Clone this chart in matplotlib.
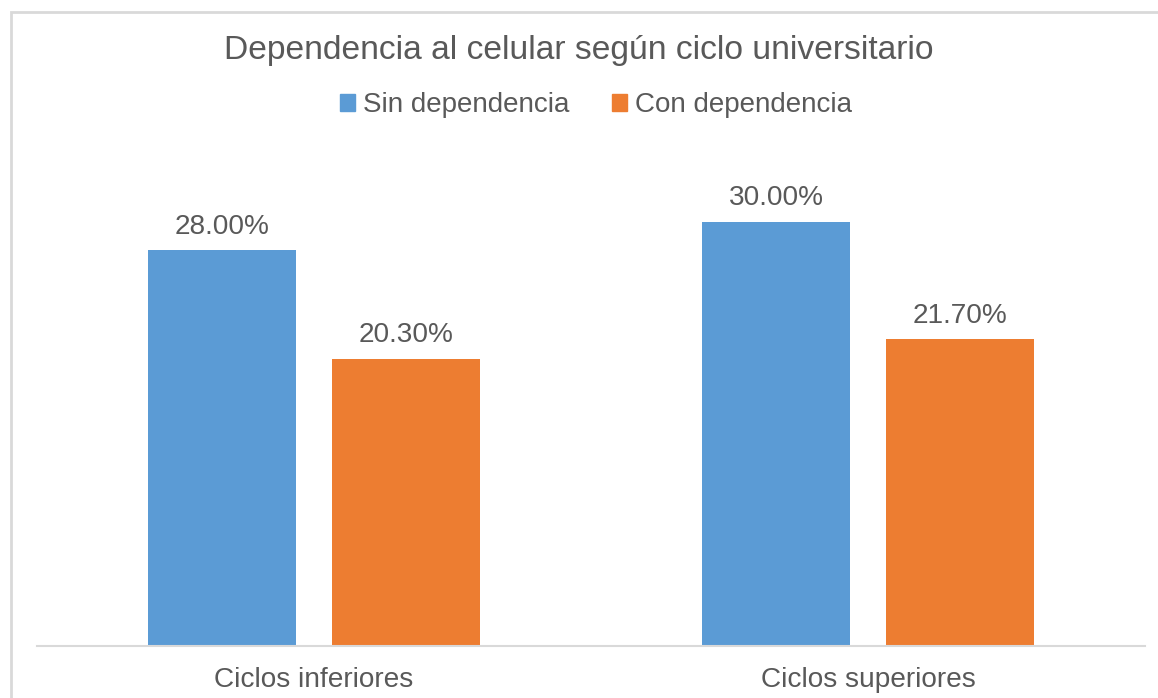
import matplotlib
matplotlib.use("Agg")
import matplotlib.pyplot as plt
from matplotlib.patches import Rectangle, Patch
import numpy as np

categories = ["Ciclos inferiores", "Ciclos superiores"]
series_names = ["Sin dependencia", "Con dependencia"]
sin_dep = [28.00, 30.00]
con_dep = [20.30, 21.70]
colors = ["#5B9BD5", "#ED7D31"]
text_color = "#595959"

plt.rcParams['font.family'] = ['Liberation Sans', 'DejaVu Sans']

W, H = 1158, 698
fig = plt.figure(figsize=(W / 100, H / 100), dpi=100)

def fx(px):
    return px / W

def fy(py):
    return 1 - py / H

# chart border (left & top visible)
fig.patches.append(Rectangle((fx(11), fy(H + 20)), fx(W + 40 - 11), (H + 20 - 12) / H,
                             transform=fig.transFigure, fill=False,
                             edgecolor="#D9D9D9", linewidth=2))

ax = fig.add_axes([fx(37), fy(646), fx(1145 - 37), (646 - 130) / H])
x = np.arange(len(categories))
bw = 148 / 554
off = 92 / 554
b1 = ax.bar(x - off, sin_dep, bw, color=colors[0], label=series_names[0])
b2 = ax.bar(x + off, con_dep, bw, color=colors[1], label=series_names[1])
ax.set_xlim(-0.5, 1.5)
ax.set_ylim(0, 516 / (396 / 28))
for bars, vals in ((b1, sin_dep), (b2, con_dep)):
    for rect, v in zip(bars, vals):
        ax.annotate(f"{v:.2f}%", (rect.get_x() + rect.get_width() / 2, v),
                    xytext=(0, 7.5), textcoords="offset points", ha="center", va="bottom",
                    fontsize=20.2, color=text_color)

for s in ["top", "right", "left"]:
    ax.spines[s].set_visible(False)
ax.spines["bottom"].set_color("#D9D9D9")
ax.spines["bottom"].set_linewidth(1.5)
ax.set_yticks([])
ax.set_xticks(x)
ax.set_xticklabels(categories, fontsize=20.2, color=text_color)
ax.tick_params(axis="x", length=0, pad=15)

fig.text(0.5, fy(51), "Dependencia al celular según ciclo universitario", ha="center", va="center",
         fontsize=24.2, color=text_color)
handles = [Patch(color=c) for c in colors]
fig.legend(handles, series_names, loc="center", bbox_to_anchor=(fx(596), fy(105)), ncol=2,
           frameon=False, fontsize=20, labelcolor=text_color, handlelength=0.55, handleheight=0.55,
           handletextpad=0.3, columnspacing=1.5)

fig.savefig("out.png", dpi=100)
